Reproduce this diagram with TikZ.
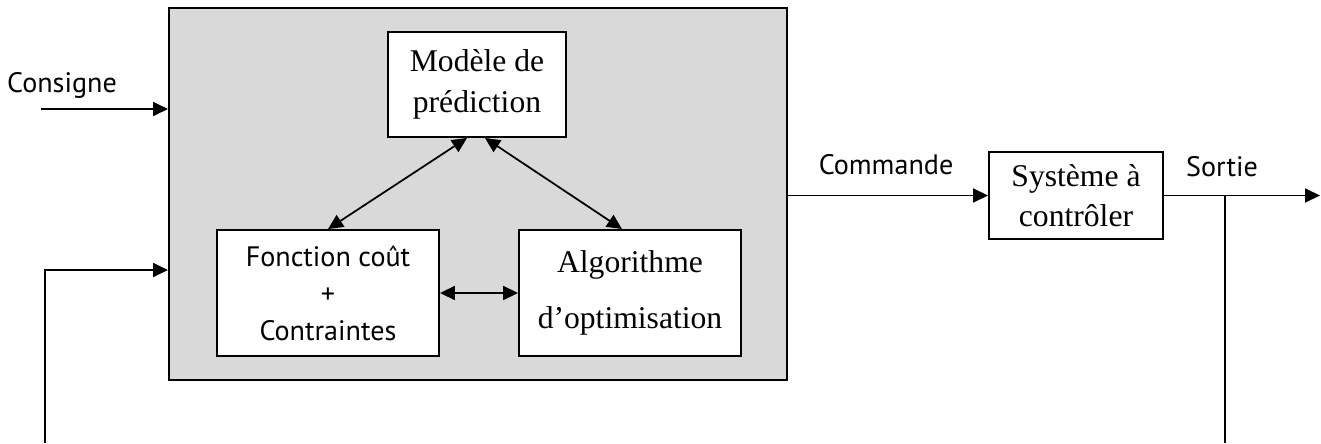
\documentclass[tikz,border=0pt]{standalone}
\usepackage{fontspec}
\setmainfont{Liberation Serif}
\newfontfamily\labelfont{PT Sans}
\usetikzlibrary{arrows.meta,positioning,calc}

\begin{document}
\begin{tikzpicture}[
    x=0.02cm, y=-0.02cm,
    every node/.style={align=center,inner sep=0pt},
    bloc/.style={draw,line width=1.1pt,fill=white,font=\fontsize{18}{23}\selectfont},
    lbl/.style={font=\labelfont\fontsize{16}{21}\selectfont},
    fleche/.style={-{Triangle[length=3mm,width=2.8mm]},line width=1pt},
    double/.style={{Triangle[length=3mm,width=2.8mm]}-{Triangle[length=3mm,width=2.8mm]},line width=1pt}
  ]
    \useasboundingbox (0,0) rectangle (1321,443);
    \node (ctrl) [draw,line width=1.2pt,fill=gray!30,minimum width=12.36cm,minimum height=7.44cm] at (478,194) {};
    \node (modele) [bloc,minimum width=3.56cm,minimum height=2.1cm] at (477,84.5) {Modèle de\\prédiction};
    \node (cout)   [bloc,font=\labelfont\fontsize{16}{21}\selectfont,minimum width=4.44cm,minimum height=2.52cm] at (328,293) {Fonction coût\\+\\Contraintes};
    \node (algo)   [bloc,minimum width=4.44cm,minimum height=2.52cm] at (630,293) {Algorithme\\[9pt]d’optimisation};
    \node (sys)    [bloc,minimum width=3.48cm,minimum height=1.74cm] at (1076,195.5) {Système à\\contrôler};
    \node (consigne) [lbl] at (62,85)  {Consigne};
    \node (commande) [lbl] at (886,165) {Commande};
    \node (sortie)   [lbl] at (1222,167) {Sortie};
    \coordinate (cin)    at (41,109);
    \coordinate (fbin)   at (45,443);
    \coordinate (sout)   at (1320,195.5);
    \coordinate (fbout)  at (1225,443);
    \draw[fleche] (cin) -- (cin -| ctrl.west);
    \draw[fleche] (fbin) |- ($(ctrl.west)+(0,76)$);
    \draw[double] ($(modele.south)+(-10,0)$) -- (cout.north);
    \draw[double] ($(modele.south)+(8,0)$) -- ($(algo.north)+(-8,0)$);
    \draw[double] (cout) -- (algo);
    \draw[fleche] (ctrl.east |- sys.west) -- (sys.west);
    \draw[fleche] (sys.east) -- (sout);
    \draw[line width=1pt] (fbout |- sys.east) -- (fbout);
  \end{tikzpicture}
\end{document}
